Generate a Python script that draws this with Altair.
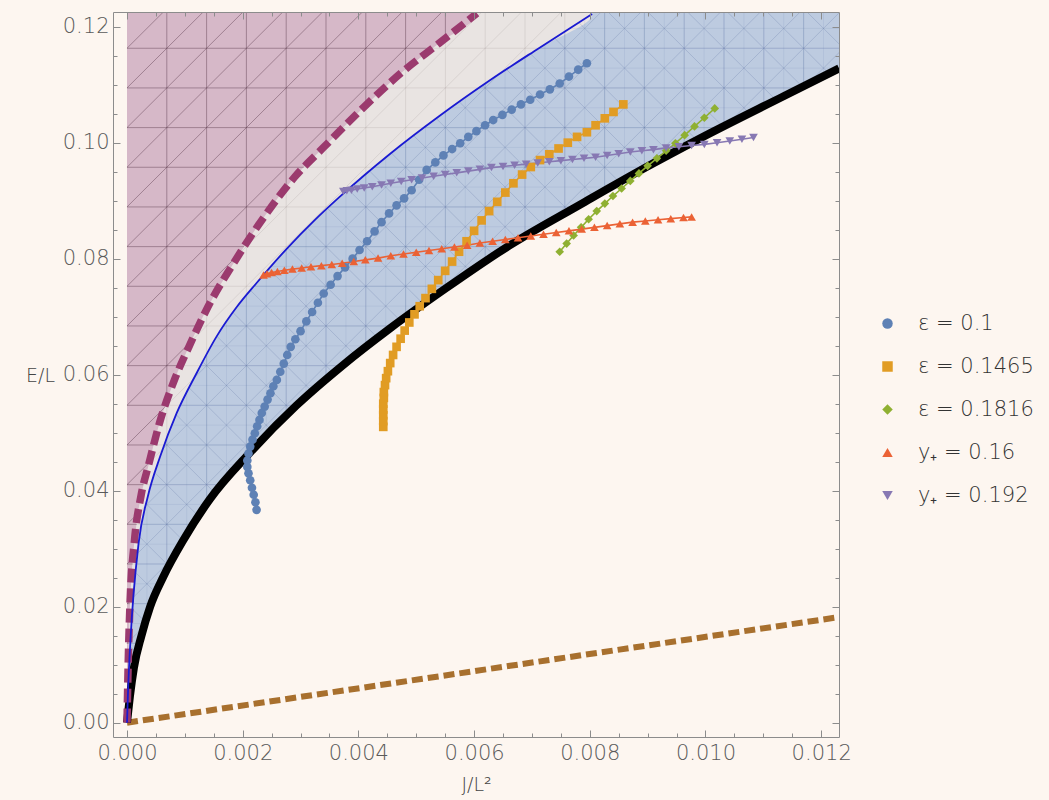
import altair as alt
import numpy as np
import pandas as pd

# ---------------------------------------------------------------------------
# Boundary curves in the (J/L^2, E/L) plane
# ---------------------------------------------------------------------------
J_dash = [0.0, 0.00002, 0.00005, 0.00013, 0.00024, 0.00038, 0.00056, 0.00082, 0.00107,
          0.00140, 0.00191, 0.00237, 0.00290, 0.00341, 0.00404, 0.00476, 0.00539, 0.00605]
E_dash = [0.0, 0.0100, 0.0200, 0.0315, 0.0390, 0.0447, 0.0516, 0.0591, 0.0648,
          0.0717, 0.0803, 0.0872, 0.0941, 0.0993, 0.1056, 0.1122, 0.1171, 0.1223]

J_thin = [0.0, 0.00002, 0.00006, 0.00020, 0.00036, 0.00057, 0.00086, 0.00120, 0.00155, 0.00190,
          0.00224, 0.00276, 0.00324, 0.00367, 0.00455, 0.00540, 0.00628, 0.00712, 0.00804]
E_thin = [0.0, 0.0060, 0.0143, 0.0309, 0.0390, 0.0458, 0.0534, 0.0602, 0.0666, 0.0717,
          0.0758, 0.0817, 0.0866, 0.0906, 0.0981, 0.1046, 0.1108, 0.1163, 0.1222]

J_black = [0.0, 0.00005, 0.00012, 0.00025, 0.00040, 0.00063, 0.00097, 0.00143, 0.00213, 0.00293,
           0.00374, 0.00455, 0.00550, 0.00660, 0.00783, 0.00898, 0.00990, 0.01135, 0.01231]
E_black = [0.0, 0.0045, 0.0095, 0.0150, 0.0200, 0.0252, 0.0314, 0.0385, 0.0466, 0.0547,
           0.0617, 0.0680, 0.0748, 0.0822, 0.0893, 0.0958, 0.1007, 0.1080, 0.1128]

J_brown = [0.0, 0.00662, 0.01231]
E_brown = [0.0, 0.0098, 0.0182]

# ---------------------------------------------------------------------------
# Solution families (J/L^2 given in units of 1e-3)
# ---------------------------------------------------------------------------
series_names = ["ε = 0.1", "ε = 0.1465", "ε = 0.1816", "y₊ = 0.16", "y₊ = 0.192"]
series_colors = ["#5E81B5", "#E19C24", "#8FB032", "#EB6235", "#8778B3"]
series_shapes = ["circle", "square", "diamond", "triangle-up", "triangle-down"]

J3_eps_a = [2.24, 2.22, 2.19, 2.16, 2.13, 2.10, 2.08, 2.08, 2.10, 2.13,
            2.17, 2.21, 2.25, 2.29, 2.33, 2.38, 2.43, 2.48, 2.53, 2.59,
            2.65, 2.71, 2.77, 2.83, 2.91, 3.00, 3.10, 3.20, 3.30, 3.40,
            3.52, 3.64, 3.77, 3.90, 4.02, 4.15, 4.28, 4.40, 4.53, 4.66,
            4.79, 4.92, 5.05, 5.18, 5.33, 5.47, 5.62, 5.76, 5.90, 6.04,
            6.19, 6.33, 6.49, 6.65, 6.81, 6.97, 7.14, 7.31, 7.48, 7.64,
            7.80, 7.95]
E_eps_a = [0.0367, 0.0380, 0.0393, 0.0405, 0.0418, 0.0430, 0.0441, 0.0452, 0.0464, 0.0476,
           0.0488, 0.0499, 0.0511, 0.0522, 0.0534, 0.0545, 0.0557, 0.0568, 0.0580, 0.0591,
           0.0605, 0.0619, 0.0634, 0.0648, 0.0661, 0.0675, 0.0692, 0.0708, 0.0724, 0.0740,
           0.0755, 0.0770, 0.0785, 0.0800, 0.0815, 0.0830, 0.0847, 0.0863, 0.0878, 0.0892,
           0.0904, 0.0918, 0.0936, 0.0953, 0.0966, 0.0978, 0.0989, 0.0999, 0.1010, 0.1020,
           0.1030, 0.1039, 0.1048, 0.1057, 0.1066, 0.1074, 0.1083, 0.1092, 0.1102, 0.1114,
           0.1126, 0.1137]

J3_eps_b = [4.43, 4.43, 4.43, 4.43, 4.43, 4.44, 4.44, 4.46, 4.48, 4.51,
            4.55, 4.60, 4.66, 4.73, 4.80, 4.88, 4.97, 5.06, 5.16, 5.27,
            5.38, 5.50, 5.62, 5.74, 5.87, 6.00, 6.13, 6.26, 6.40, 6.54,
            6.68, 6.83, 6.98, 7.14, 7.30, 7.46, 7.62, 7.78, 7.95, 8.10,
            8.26, 8.41, 8.58]
E_eps_b = [0.0510, 0.0520, 0.0530, 0.0540, 0.0550, 0.0560, 0.0570, 0.0582, 0.0594, 0.0606,
           0.0620, 0.0634, 0.0648, 0.0662, 0.0676, 0.0690, 0.0704, 0.0718, 0.0732, 0.0748,
           0.0763, 0.0779, 0.0795, 0.0812, 0.0830, 0.0848, 0.0866, 0.0882, 0.0898, 0.0914,
           0.0930, 0.0945, 0.0958, 0.0970, 0.0980, 0.0990, 0.1000, 0.1010, 0.1018, 0.1030,
           0.1042, 0.1053, 0.1066]

J3_eps_c = [7.48, 7.60, 7.72, 7.85, 7.98, 8.12, 8.26, 8.40, 8.55, 8.70,
            8.85, 9.00, 9.16, 9.32, 9.48, 9.64, 9.81, 9.98, 10.16]
E_eps_c = [0.0812, 0.0826, 0.0840, 0.0854, 0.0868, 0.0882, 0.0895, 0.0908, 0.0921, 0.0934,
           0.0947, 0.0960, 0.0973, 0.0986, 0.0999, 0.1013, 0.1028, 0.1043, 0.1059]

J3_yp_a = [2.36, 2.42, 2.50, 2.60, 2.72, 2.86, 3.02, 3.18, 3.36, 3.54,
           3.72, 3.92, 4.12, 4.34, 4.56, 4.78, 5.00, 5.22, 5.44, 5.66,
           5.88, 6.10, 6.32, 6.54, 6.76, 6.98, 7.20, 7.42, 7.64, 7.86,
           8.08, 8.30, 8.52, 8.74, 8.96, 9.18, 9.40, 9.62, 9.76]
E_yp_a = [0.0772, 0.0774, 0.0776, 0.0778, 0.0780, 0.0782, 0.0784, 0.0786, 0.0788, 0.0790,
          0.0792, 0.0795, 0.0798, 0.0801, 0.0805, 0.0808, 0.0811, 0.0814, 0.0817, 0.0820,
          0.0823, 0.0827, 0.0830, 0.0833, 0.0836, 0.0839, 0.0842, 0.0845, 0.0848, 0.0851,
          0.0854, 0.0857, 0.0860, 0.0863, 0.0865, 0.0867, 0.0869, 0.0871, 0.0872]

J3_yp_b = [3.74, 3.80, 3.88, 3.98, 4.10, 4.24, 4.40, 4.56, 4.74, 4.92,
           5.10, 5.30, 5.50, 5.70, 5.90, 6.10, 6.30, 6.50, 6.70, 6.90,
           7.10, 7.30, 7.50, 7.70, 7.90, 8.10, 8.30, 8.50, 8.70, 8.90,
           9.10, 9.32, 9.54, 9.76, 9.98, 10.20, 10.42, 10.63, 10.83]
E_yp_b = [0.0916, 0.0917, 0.0918, 0.0920, 0.0922, 0.0924, 0.0927, 0.0930, 0.0933, 0.0936,
          0.0939, 0.0942, 0.0945, 0.0948, 0.0951, 0.0954, 0.0957, 0.0959, 0.0961, 0.0963,
          0.0965, 0.0967, 0.0969, 0.0971, 0.0973, 0.0975, 0.0978, 0.0981, 0.0984, 0.0986,
          0.0988, 0.0991, 0.0993, 0.0995, 0.0997, 0.1000, 0.1003, 0.1006, 0.1009]

series_J3 = [J3_eps_a, J3_eps_b, J3_eps_c, J3_yp_a, J3_yp_b]
series_E = [E_eps_a, E_eps_b, E_eps_c, E_yp_a, E_yp_b]

# Tick positions
x_major = [0.0, 0.002, 0.004, 0.006, 0.008, 0.010, 0.012]
y_major = [0.0, 0.02, 0.04, 0.06, 0.08, 0.10, 0.12]

# ---------------------------------------------------------------------------
# Layout
# ---------------------------------------------------------------------------
X_LO, X_HI = -0.000242, 0.012308
Y_LO, Y_HI = -0.00247, 0.12253
PLOT_W, PLOT_H = 726, 725
MESH_DX, MESH_DY = 0.000688, 0.00684

FONT = "DejaVu Sans"
FRAME = "#8c8c8c"

x_minor = [round(0.0005 * k, 4) for k in range(0, 25) if k % 4]
y_minor = [round(0.005 * k, 3) for k in range(0, 25) if k % 4]
x_ticks = [X_LO] + sorted(x_major + x_minor) + [X_HI]
y_ticks = [Y_LO] + sorted(y_major + y_minor) + [Y_HI]

x_is_major = "abs(datum.value*500 - round(datum.value*500)) < 1e-6"
y_is_major = "abs(datum.value*50 - round(datum.value*50)) < 1e-6"
x_is_edge = "datum.value < -0.0001 || datum.value > 0.0122"
y_is_edge = "datum.value < -0.001 || datum.value > 0.1225"

# Grid lines double as the frame (edges) and inward ticks on all four sides
x_axis = alt.Axis(
    values=x_ticks, title="J/L²", ticks=False, domain=False, grid=True,
    gridColor=FRAME, gridWidth=1,
    gridDash={"condition": [{"test": x_is_edge, "value": []},
                            {"test": x_is_major, "value": [7, PLOT_H - 14, 7, 300]}],
              "value": [4, PLOT_H - 8, 4, 300]},
    labelExpr=f"{x_is_major} ? format(datum.value, '.3f') : ''",
    labelOverlap=False, labelFlush=False, labelPadding=5,
    labelFont=FONT, labelFontSize=21, labelColor="#5a5a5a", labelFontWeight=300,
    titleFont=FONT, titleFontSize=19, titleFontWeight=300, titleColor="#444444",
    titleX=PLOT_W / 2, titleY=47, titleAlign="center", titleBaseline="middle",
    zindex=1,
)
y_axis = alt.Axis(
    values=y_ticks, title="E/L", ticks=False, domain=False, grid=True,
    gridColor=FRAME, gridWidth=1,
    gridDash={"condition": [{"test": y_is_edge, "value": []},
                            {"test": y_is_major, "value": [7, PLOT_W - 14, 7, 300]}],
              "value": [4, PLOT_W - 8, 4, 300]},
    labelExpr=f"{y_is_major} ? format(datum.value, '.2f') : ''",
    labelOverlap=False, labelFlush=False, labelPadding=4,
    labelFont=FONT, labelFontSize=21, labelColor="#5a5a5a", labelFontWeight=300,
    titleFont=FONT, titleFontSize=19, titleFontWeight=300, titleColor="#444444",
    titleAngle=0, titleX=-73, titleY=363, titleAlign="center", titleBaseline="middle",
    zindex=1,
)
x_scale = alt.Scale(domain=[X_LO, X_HI], nice=False, zero=False)
y_scale = alt.Scale(domain=[Y_LO, Y_HI], nice=False, zero=False)


def ex(field):
    return alt.X(field, type="quantitative", scale=x_scale, axis=x_axis)


def ey(field):
    return alt.Y(field, type="quantitative", scale=y_scale, axis=y_axis)


# ---------------------------------------------------------------------------
# Region boundaries as functions of E/L
# ---------------------------------------------------------------------------
def boundary(E_vals, J_vals, beyond=None):
    Ea, Ja = np.asarray(E_vals), np.asarray(J_vals)
    right = Ja[-1] if beyond is None else beyond
    return lambda y: np.interp(y, Ea, Ja, right=right)


axis_left = lambda y: np.zeros_like(y)
dash_at = boundary(E_dash, J_dash)
thin_at = boundary(E_thin, J_thin)
black_at = boundary(E_black, J_black, beyond=X_HI)


def mesh_lines(dx, dy, up=True, down=False):
    lines = []
    for k in range(1, int(Y_HI / dy) + 1):
        lines.append((0.0, k * dy, X_HI, k * dy))
    for k in range(1, int(X_HI / dx) + 1):
        lines.append((k * dx, 0.0, k * dx, Y_HI))
    rise = X_HI / dx * dy
    n, m = int(Y_HI / dy) + 1, int(rise / dy) + 1
    if up:
        for c in range(-m, n + 1):
            lines.append((0.0, c * dy, X_HI, c * dy + rise))
    if down:
        for c in range(0, n + m + 1):
            lines.append((0.0, c * dy, X_HI, c * dy - rise))
    return lines


def clip_to_band(lines, left, right, samples=1600):
    t = np.linspace(0.0, 1.0, samples)
    segs = []
    for x0, y0, x1, y1 in lines:
        xs, ys = x0 + (x1 - x0) * t, y0 + (y1 - y0) * t
        inside = (ys >= 0) & (ys <= Y_HI) & (xs >= 0) & (xs >= left(ys)) & (xs <= right(ys))
        if not inside.any():
            continue
        edges = np.flatnonzero(np.diff(np.concatenate([[0], inside.astype(int), [0]])))
        for a, b in zip(edges[::2], edges[1::2]):
            if b - a > 1:
                segs.append({"x": xs[a], "y": ys[a], "x2": xs[b - 1], "y2": ys[b - 1]})
    return pd.DataFrame(segs)


def band_frame(J_vals, E_vals, top_x):
    df = pd.DataFrame({"E": list(E_vals) + [Y_HI], "J": list(J_vals) + [top_x]})
    df["J0"] = 0.0
    return df


def fill(df, color):
    return alt.Chart(df).mark_area(orient="horizontal", interpolate="monotone", clip=True,
                                   color=color, opacity=1).encode(
        y=ey("E"), x=ex("J0"), x2=alt.X2("J"))


def mesh(df, color, opacity, width):
    return alt.Chart(df).mark_rule(clip=True, color=color, opacity=opacity, strokeWidth=width).encode(
        x=ex("x"), y=ey("y"), x2=alt.X2("x2"), y2=alt.Y2("y2"))


def curve(J_vals, E_vals, color, width, dash=None, smooth=True):
    df = pd.DataFrame({"J": J_vals, "E": E_vals, "i": range(len(J_vals))})
    kw = {"strokeDash": dash} if dash else {}
    if smooth:
        kw["interpolate"] = "monotone"
    return alt.Chart(df).mark_line(clip=True, color=color, strokeWidth=width, **kw).encode(
        x=ex("J"), y=ey("E"), order="i:Q")


# Filled regions: stable band (blue), intermediate band (grey), excluded wedge (mauve)
area_blue = fill(band_frame(J_black, E_black, X_HI), "#BDCBE0")
area_grey = fill(band_frame(J_thin, E_thin, J_thin[-1]), "#E9E4E2")
area_mauve = fill(band_frame(J_dash, E_dash, J_dash[-1]), "#D6B8C8")

coarse = mesh_lines(MESH_DX, MESH_DY, up=True)
coarse_x = mesh_lines(MESH_DX, MESH_DY, up=True, down=True)
fine = mesh_lines(MESH_DX / 2, MESH_DY / 2, up=False)

mesh_blue_fine = mesh(clip_to_band(fine, thin_at, black_at), "#6F86B0", 0.22, 0.6)
mesh_blue = mesh(clip_to_band(coarse_x, thin_at, black_at), "#5A71A0", 0.35, 0.7)
mesh_grey = mesh(clip_to_band(coarse, dash_at, thin_at), "#8a8080", 0.25, 0.7)
mesh_mauve = mesh(clip_to_band(coarse, axis_left, dash_at), "#5a3a4c", 0.55, 0.8)

line_brown = curve(J_brown, E_brown, "#A8702E", 6, dash=[11, 5], smooth=False)
line_black = curve(J_black, E_black, "#000000", 8)
line_dash = curve(J_dash, E_dash, "#9B3A6E", 7.5, dash=[14, 6])
line_thin = curve(J_thin, E_thin, "#1A1AD2", 1.8)

# Solution families
rows = []
for name, Js, Es in zip(series_names, series_J3, series_E):
    for i, (j, e) in enumerate(zip(Js, Es)):
        rows.append({"series": name, "J": j * 1e-3, "E": e, "i": i})
series_df = pd.DataFrame(rows)

color_scale = alt.Scale(domain=series_names, range=series_colors)
shape_scale = alt.Scale(domain=series_names, range=series_shapes)
legend = alt.Legend(
    title=None, orient="none", legendX=764, legendY=301, padding=0,
    labelFont=FONT, labelFontSize=21, labelColor="#333333", labelFontWeight=300,
    symbolSize=110, symbolStrokeWidth=0, rowPadding=21, labelOffset=20,
)

series_lines = alt.Chart(series_df).mark_line(strokeWidth=1.6, clip=True).encode(
    x=ex("J"), y=ey("E"), order="i:Q",
    color=alt.Color("series:N", scale=color_scale),
)
series_points = alt.Chart(series_df).mark_point(filled=True, size=75, opacity=1, clip=True).encode(
    x=ex("J"), y=ey("E"),
    color=alt.Color("series:N", scale=color_scale, legend=legend),
    shape=alt.Shape("series:N", scale=shape_scale, legend=legend),
)

chart = alt.layer(
    area_blue, area_grey, area_mauve,
    mesh_blue_fine, mesh_blue, mesh_grey, mesh_mauve,
    line_brown, line_black, line_dash, line_thin,
    series_lines, series_points,
).properties(
    width=PLOT_W, height=PLOT_H,
    padding={"left": 113, "top": 12, "right": 210, "bottom": 63},
    autosize=alt.AutoSizeParams(type="none"),
).configure(
    background="#FDF6F0",
).configure_view(stroke=None)

chart.save("out.html", embed_options={"renderer": "svg", "actions": False})
